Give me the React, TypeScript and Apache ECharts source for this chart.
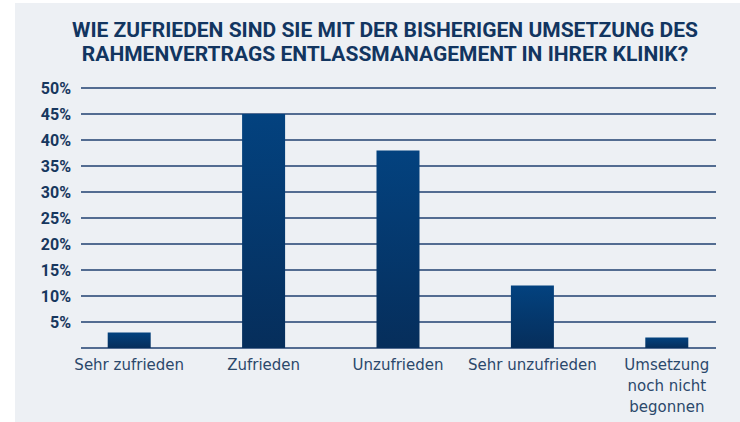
import React, { useEffect, useRef } from "react";
import * as echarts from "echarts";

const categories = [
  "Sehr zufrieden",
  "Zufrieden",
  "Unzufrieden",
  "Sehr unzufrieden",
  "Umsetzung\nnoch nicht\nbegonnen",
];
const values = [3, 45, 38, 12, 2];
const yMin = 0;
const yMax = 50;
const yInterval = 5;
const titleLines = [
  "WIE ZUFRIEDEN SIND SIE MIT DER BISHERIGEN UMSETZUNG DES",
  "RAHMENVERTRAGS ENTLASSMANAGEMENT IN IHRER KLINIK?",
];

export default function App() {
  const ref = useRef<HTMLDivElement>(null);
  useEffect(() => {
    document.body.style.margin = "0";
    const chart = echarts.init(ref.current!, null, { renderer: "svg" });
    chart.setOption({
      animation: false,
      backgroundColor: "#ffffff",
      graphic: [
        {
          type: "rect",
          z: -10,
          shape: { x: 15, y: 3, width: 725, height: 419 },
          style: { fill: "#edf0f4" },
          silent: true,
        },
        {
          type: "text",
          x: 385,
          y: 18,
          style: {
            text: titleLines.join("\n"),
            fill: "#123560",
            font: 'bold 21px Roboto, "Noto Sans", sans-serif',
            textAlign: "center",
            lineHeight: 24,
          },
        },
      ],
      grid: [
        { left: 81, right: 24, top: 88, bottom: 74 },
        { left: 62, right: 6, top: 88, bottom: 74 },
      ],
      xAxis: [
        { gridIndex: 0, type: "value", show: false, min: 0, max: 1 },
        {
          gridIndex: 1,
          type: "category",
          data: categories,
          axisLine: { show: false },
          axisTick: { show: false },
          axisLabel: {
            margin: 6,
            color: "#2b486b",
            fontFamily: '"DejaVu Sans", sans-serif',
            fontSize: 15,
            lineHeight: 21,
            interval: 0,
          },
        },
      ],
      yAxis: [
        {
          gridIndex: 0,
          type: "value",
          min: yMin,
          max: yMax,
          interval: yInterval,
          axisLine: { show: false },
          axisTick: { show: false },
          axisLabel: {
            margin: 10,
            color: "#17375e",
            fontWeight: "bold",
            fontFamily: 'Roboto, sans-serif',
            fontSize: 16,
            formatter: (v: number) => (v === 0 ? "" : v + "%"),
          },
          splitLine: { lineStyle: { color: "#1f4170", width: 1.5 } },
        },
        {
          gridIndex: 1,
          type: "value",
          min: yMin,
          max: yMax,
          interval: yInterval,
          show: false,
        },
      ],
      series: [
        {
          type: "bar",
          xAxisIndex: 1,
          yAxisIndex: 1,
          data: values,
          barWidth: 43,
          itemStyle: {
            color: new echarts.graphic.LinearGradient(0, 0, 0, 1, [
              { offset: 0, color: "#03427f" },
              { offset: 1, color: "#062e5b" },
            ]),
          },
        },
      ],
    });
    return () => chart.dispose();
  }, []);
  return <div ref={ref} style={{ width: 740, height: 422 }} />;
}
